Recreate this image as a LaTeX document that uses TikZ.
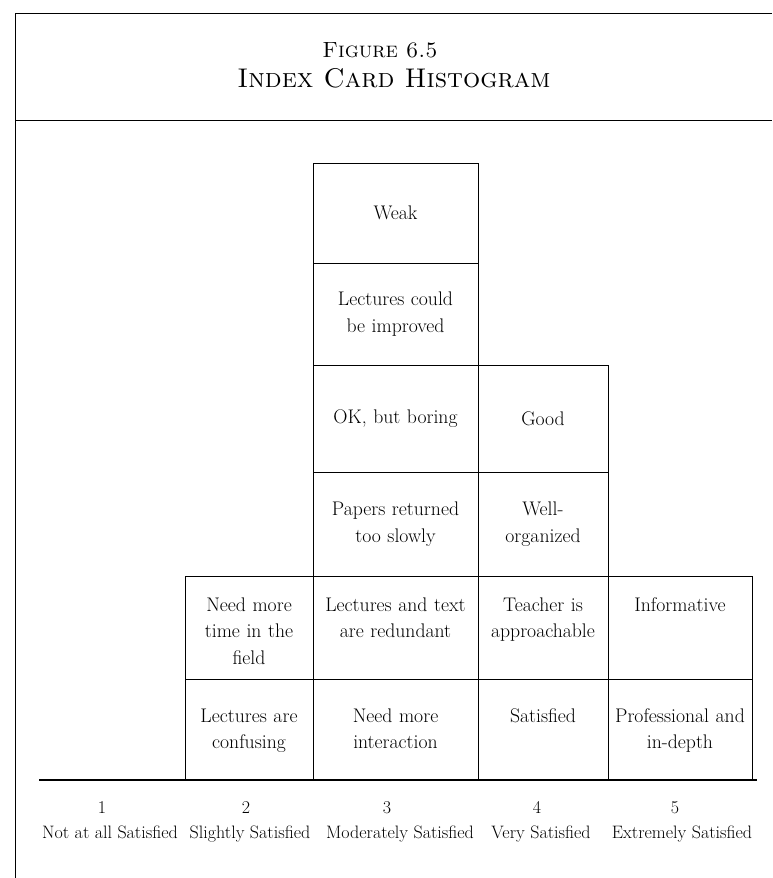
\documentclass[tikz,border=0pt]{standalone}
\usepackage{tikz}
\usetikzlibrary{positioning}
\newcommand{\cardfont}{\fontsize{19.7}{26.5}\selectfont}
\newcommand{\numfont}{\fontsize{18}{20}\selectfont}
\newcommand{\scalefont}{\fontsize{18}{20}\selectfont}

\begin{document}
\begin{tikzpicture}[x=1pt,y=-1pt,
  card/.style={draw,line width=0.8pt,inner sep=0pt,align=center,font=\cardfont},
  c2/.style={text width=128pt}, c3/.style={text width=165pt},
  c4/.style={text width=130pt}, c5/.style={text width=144pt},
  toprow/.style 2 args={anchor=north,text height=#1,text depth=#2}]
\useasboundingbox (0,0) rectangle (772,878);
% frame and heading
\draw[line width=1pt] (772,13) -- (15,13) -- (15,878);
\draw[line width=1pt] (15,120) -- (772,120);
\node[font=\fontsize{22}{26}\selectfont,anchor=base] (fig) at (380,57) {\textsc{Figure 6.5}};
\node[font=\fontsize{27}{30}\selectfont,anchor=base] (title) at (394,87) {\textsc{Index Card Histogram}};

% cards, upper rows centred
\node[card,c3,minimum height=100pt] (weak) at (395.5,213) {Weak};
\node[card,c3,minimum height=102pt] (improve) at (395.5,314) {Lectures could\\be improved};
\node[card,c3,minimum height=107pt] (boring) at (395.5,418.5) {OK, but boring};
\node[card,c4,minimum height=107pt] (good) at (543,418.5) {Good};
\node[card,c3,minimum height=104pt] (papers) at (395.5,524) {Papers returned\\too slowly};
\node[card,c4,minimum height=104pt] (organized) at (543,524) {Well-\\organized};

% cards, lower rows with text at the top
\node[card,c2,toprow={35pt}{68pt}] (field) at (249,576) {Need more\\time in the\\field};
\node[card,c3,toprow={35pt}{68pt}] (redundant) at (395.5,576) {Lectures and text\\are redundant};
\node[card,c4,toprow={35pt}{68pt}] (teacher) at (543,576) {Teacher is\\approachable};
\node[card,c5,toprow={35pt}{68pt}] (informative) at (680,576) {Informative};
\node[card,c2,toprow={43pt}{58pt}] (confusing) at (249,679) {Lectures are\\confusing};
\node[card,c3,toprow={43pt}{58pt}] (interaction) at (395.5,679) {Need more\\interaction};
\node[card,c4,toprow={43pt}{58pt}] (satisfied) at (543,679) {Satisfied};
\node[card,c5,toprow={43pt}{58pt}] (indepth) at (680,679) {Professional and\\in-depth};

% axis
\coordinate (axisL) at (39,780);
\coordinate (axisR) at (757,780);
\draw[line width=1.5pt] (axisL) -- (axisR);

% scale
\node[font=\numfont,anchor=base] (n1) at (102,813) {1};
\node[font=\numfont,anchor=base] (n2) at (246,813) {2};
\node[font=\numfont,anchor=base] (n3) at (387,813) {3};
\node[font=\numfont,anchor=base] (n4) at (537,813) {4};
\node[font=\numfont,anchor=base] (n5) at (675,813) {5};
\node[font=\scalefont,anchor=base] (s1) at (110,838) {Not at all Satisfied};
\node[font=\scalefont,anchor=base] (s2) at (250,838) {Slightly Satisfied};
\node[font=\scalefont,anchor=base] (s3) at (400,838) {Moderately Satisfied};
\node[font=\scalefont,anchor=base] (s4) at (541,838) {Very Satisfied};
\node[font=\scalefont,anchor=base] (s5) at (682,838) {Extremely Satisfied};
\end{tikzpicture}
\end{document}
